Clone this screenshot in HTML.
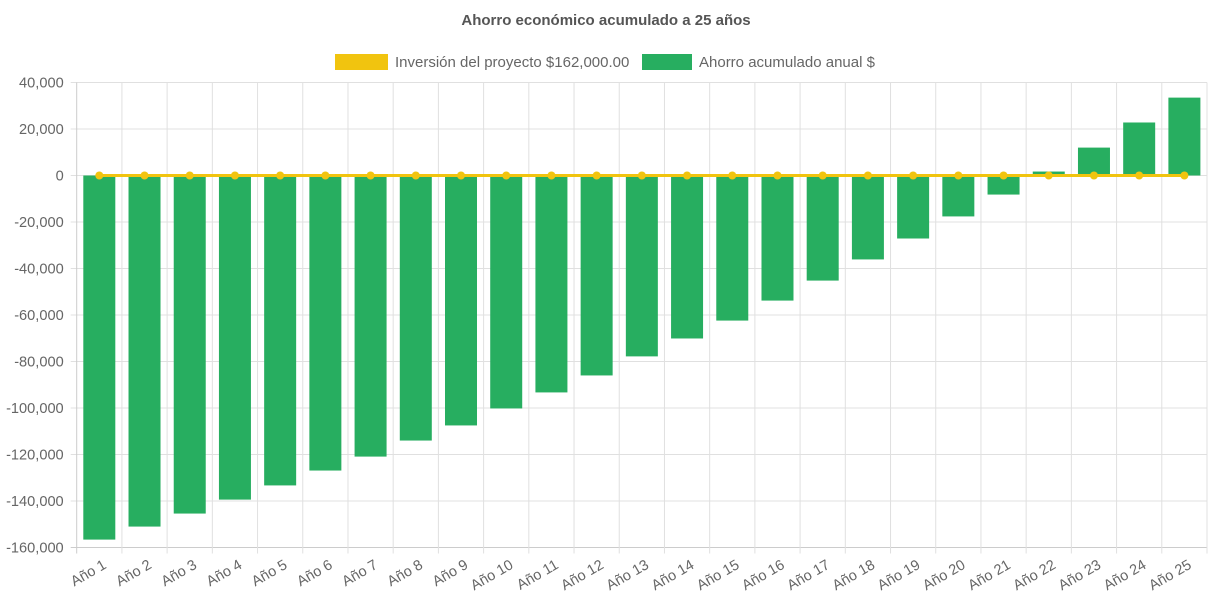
<!DOCTYPE html>
<html><head><meta charset="utf-8"><style>
body{margin:0;background:#fff;font-family:"Liberation Sans",sans-serif}
</style></head><body>
<svg width="1213" height="606" xmlns="http://www.w3.org/2000/svg" font-family="Liberation Sans, sans-serif">
<text x="606" y="25" text-anchor="middle" font-size="15" font-weight="bold" fill="#555">Ahorro económico acumulado a 25 años</text>
<g>
<rect x="335" y="54" width="53" height="16" fill="#f1c40f"/>
<text x="395" y="67" font-size="15" fill="#666">Inversión del proyecto $162,000.00</text>
<rect x="642" y="54" width="50" height="16" fill="#27ae60"/>
<text x="699" y="67" font-size="15" fill="#666">Ahorro acumulado anual $</text>
</g>
<g id="grid"></g><g id="bars"></g><g id="line"></g><g id="axes"></g>
</svg>
<script>
const categories = Array.from({length:25},(_, i)=>'Año '+(i+1));
const savings = [-156600,-151000,-145400,-139400,-133300,-126900,-120900,-114000,-107500,-100200,-93300,-86000,-77800,-70100,-62400,-53800,-45200,-36100,-27100,-17600,-8200,1700,12000,22800,33500];
const investment = Array(25).fill(0);
const yTicks = [40000,20000,0,-20000,-40000,-60000,-80000,-100000,-120000,-140000,-160000];
const NS='http://www.w3.org/2000/svg';
const L=76.7,R=1207,T=82.5,B=547.5,yMax=40000,yMin=-160000;
const step=(R-L)/categories.length;
const y=v=>T+(yMax-v)/(yMax-yMin)*(B-T);
const xc=i=>L+step*(i+0.5);
function mk(tag,attrs,parent){const e=document.createElementNS(NS,tag);for(const k in attrs)e.setAttribute(k,attrs[k]);document.getElementById(parent).appendChild(e);return e;}
yTicks.forEach(t=>{
 const g=mk('line',{x1:L-6,x2:R,y1:y(t),y2:y(t),stroke:t===yMin?'#ccc':'#e0e0e0'},'grid');
 
 
 const tx=mk('text',{x:L-13,y:y(t)+5,'text-anchor':'end','font-size':14.6,fill:'#666'},'axes');
 tx.textContent=t.toLocaleString('en-US');
 
 
});
for(let i=0;i<=categories.length;i++){
 const g=mk('line',{x1:L+step*i,x2:L+step*i,y1:T,y2:B+6,stroke:i==0?'#ccc':'#e0e0e0'},'grid');
 
 
}
const bw=32;
savings.forEach((v,i)=>{
 const y0=y(0),y1=y(v);
 const r=mk('rect',{x:xc(i)-bw/2,y:Math.min(y0,y1),width:bw,height:Math.abs(y1-y0),fill:'#27ae60'},'bars');
 
 
});
const pl=mk('polyline',{points:investment.map((v,i)=>xc(i)+','+y(v)).join(' '),fill:'none',stroke:'#f1c40f','stroke-width':3},'line');


investment.forEach((v,i)=>{
 const c=mk('circle',{cx:xc(i),cy:y(v),r:4,fill:'#f1c40f'},'line');
 
 
});
categories.forEach((c,i)=>{
 const x=xc(i)+8,yy=B+20;
 const t=mk('text',{x:x,y:yy,'text-anchor':'end','font-size':14.6,fill:'#666',transform:`rotate(-30 ${x} ${yy})`},'axes');
 t.textContent=c;
 
 
});
</script>
</body></html>
